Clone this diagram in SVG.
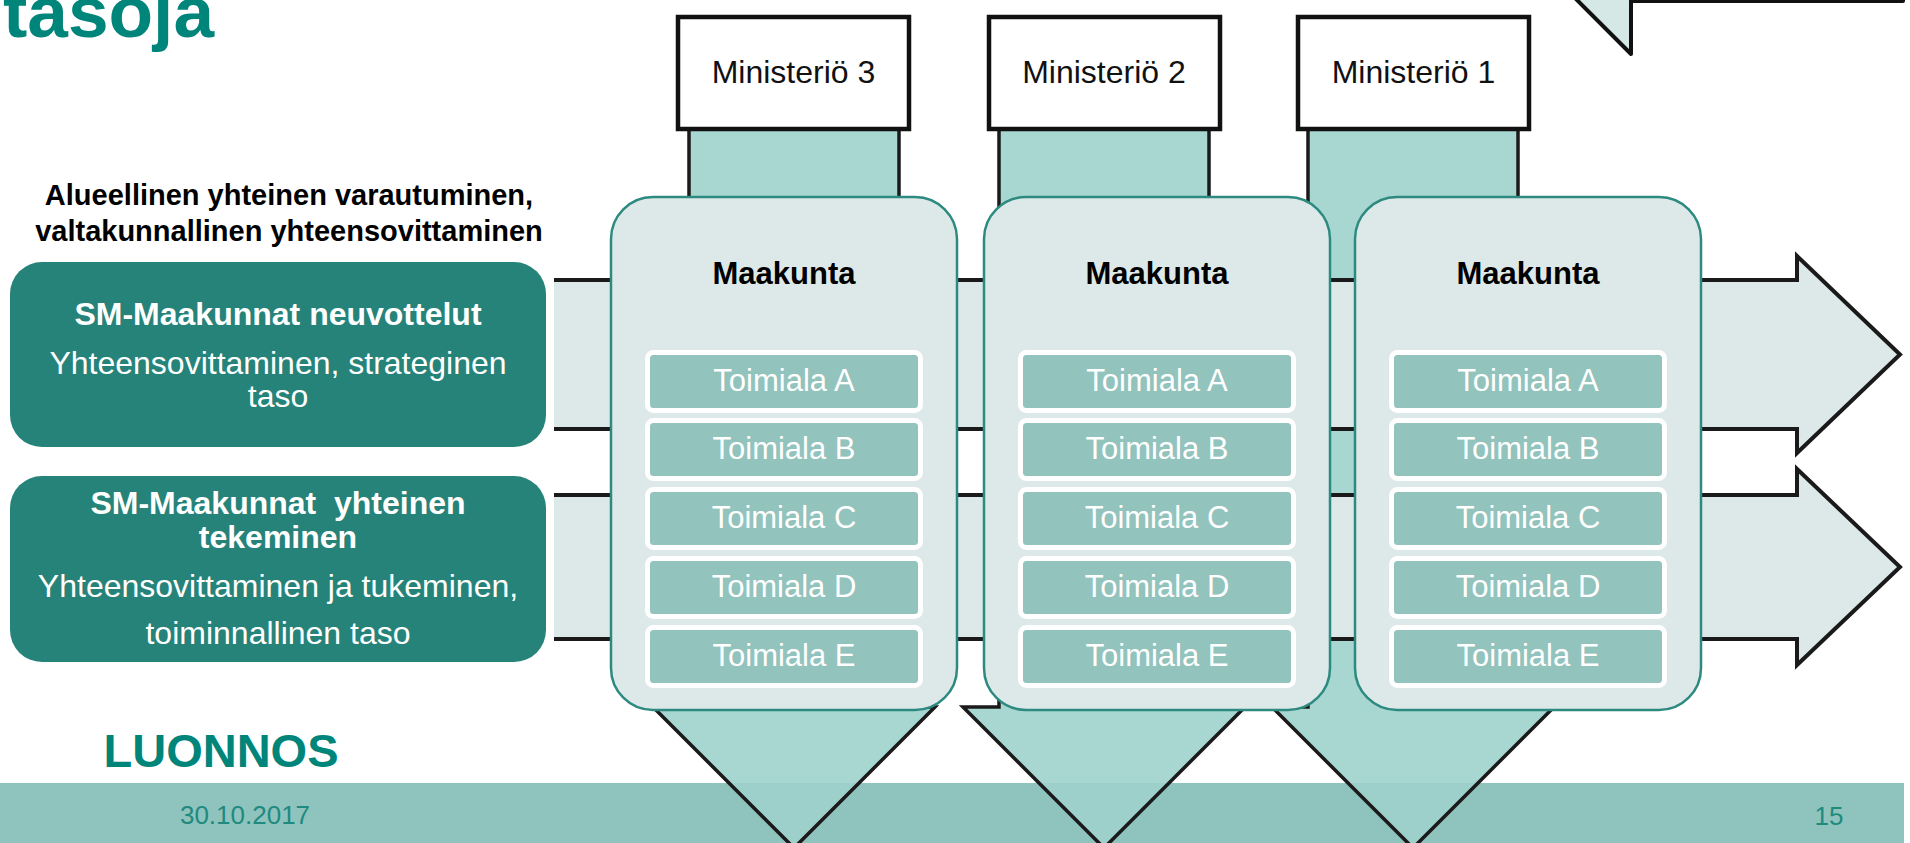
<svg xmlns="http://www.w3.org/2000/svg" width="1910" height="843" viewBox="0 0 1910 843">
<style>
text{font-family:"Liberation Sans",Arial,sans-serif}
.b{font-weight:bold}
.c{text-anchor:middle}
.wt{fill:#ffffff}
.ha{fill:#dde9e8;stroke:#1a1a1a;stroke-width:4;stroke-linejoin:miter}
.va{fill:#9fd1cc;fill-opacity:0.9;stroke:#1a1a1a;stroke-width:3.5;stroke-linejoin:miter}
.min{fill:#ffffff;stroke:#111111;stroke-width:4.5}
.gb{fill:#268379}
.card{fill:#dde9e8;stroke:#2d8a80;stroke-width:2.5}
.row{fill:#92c3bd;stroke:#ffffff;stroke-width:5}
.mt{font-size:32px;fill:#111111}
.kt{font-size:31px;fill:#000000;font-weight:bold}
.rt{font-size:31px;fill:#ffffff}
</style>
<rect x="0" y="0" width="1910" height="843" fill="#ffffff"/>
<rect id="footer-band" x="0" y="783" width="1904" height="60" fill="#8fc3bd"/>
<text x="3" y="37" class="b" style="font-size:73px;fill:#00857a">tasoja</text>
<g id="connectors">
<path class="va" d="M689,129 V707 H653 L794,848 L935,707 H899 V129"/>
<path class="va" d="M999,129 V707 H963 L1104,848 L1245,707 H1209 V129"/>
<path class="va" d="M1308,129 V707 H1272 L1413,848 L1554,707 H1518 V129"/>
<path class="ha" d="M554,280 H1797 V256 L1900,354.5 L1797,453 V429 H554"/>
<path class="ha" d="M554,495 H1797 V469 L1900,567 L1797,665 V639 H554"/>
<path d="M1903,-20 V1 H1631 V54 L1560,-17" fill="#d5e8e5" stroke="#111111" stroke-width="4" stroke-linejoin="round" stroke-linecap="round"/>
</g>
<g id="ministerio3"><rect class="min" x="678" y="17" width="231" height="112"/><text x="793.5" y="83" class="c mt">Ministeriö 3</text></g>
<g id="ministerio2"><rect class="min" x="989" y="17" width="231" height="112"/><text x="1104" y="83" class="c mt">Ministeriö 2</text></g>
<g id="ministerio1"><rect class="min" x="1298" y="17" width="231" height="112"/><text x="1413.5" y="83" class="c mt">Ministeriö 1</text></g>
<g id="header"><text x="289" y="205" class="c b" style="font-size:29px;fill:#000">Alueellinen yhteinen varautuminen,</text><text x="289" y="241" class="c b" style="font-size:29px;fill:#000">valtakunnallinen yhteensovittaminen</text></g>
<g id="neuvottelut"><rect class="gb" x="10" y="262" width="536" height="185" rx="32"/>
<text x="278" y="325" class="c b wt" style="font-size:32px">SM-Maakunnat neuvottelut</text>
<text x="278" y="374" class="c wt" style="font-size:32px">Yhteensovittaminen, strateginen</text>
<text x="278" y="407" class="c wt" style="font-size:32px">taso</text></g>
<g id="yhteinen-tekeminen"><rect class="gb" x="10" y="476" width="536" height="186" rx="32"/>
<text x="278" y="514" class="c b wt" style="font-size:32px;white-space:pre">SM-Maakunnat  yhteinen</text>
<text x="278" y="548" class="c b wt" style="font-size:32px">tekeminen</text>
<text x="278" y="597" class="c wt" style="font-size:32px">Yhteensovittaminen ja tukeminen,</text>
<text x="278" y="644" class="c wt" style="font-size:32px">toiminnallinen taso</text></g>
<g id="maakunta1"><rect class="card" x="611" y="197" width="346" height="513" rx="42"/>
<text x="784" y="284" class="c kt">Maakunta</text>
<rect class="row" x="647.5" y="352.5" width="273" height="58" rx="6"/><text x="784" y="391" class="c rt">Toimiala A</text>
<rect class="row" x="647.5" y="420.5" width="273" height="58" rx="6"/><text x="784" y="459" class="c rt">Toimiala B</text>
<rect class="row" x="647.5" y="489.5" width="273" height="58" rx="6"/><text x="784" y="528" class="c rt">Toimiala C</text>
<rect class="row" x="647.5" y="558.5" width="273" height="58" rx="6"/><text x="784" y="597" class="c rt">Toimiala D</text>
<rect class="row" x="647.5" y="627.5" width="273" height="58" rx="6"/><text x="784" y="666" class="c rt">Toimiala E</text></g>
<g id="maakunta2"><rect class="card" x="984" y="197" width="346" height="513" rx="42"/>
<text x="1157" y="284" class="c kt">Maakunta</text>
<rect class="row" x="1020.5" y="352.5" width="273" height="58" rx="6"/><text x="1157" y="391" class="c rt">Toimiala A</text>
<rect class="row" x="1020.5" y="420.5" width="273" height="58" rx="6"/><text x="1157" y="459" class="c rt">Toimiala B</text>
<rect class="row" x="1020.5" y="489.5" width="273" height="58" rx="6"/><text x="1157" y="528" class="c rt">Toimiala C</text>
<rect class="row" x="1020.5" y="558.5" width="273" height="58" rx="6"/><text x="1157" y="597" class="c rt">Toimiala D</text>
<rect class="row" x="1020.5" y="627.5" width="273" height="58" rx="6"/><text x="1157" y="666" class="c rt">Toimiala E</text></g>
<g id="maakunta3"><rect class="card" x="1355" y="197" width="346" height="513" rx="42"/>
<text x="1528" y="284" class="c kt">Maakunta</text>
<rect class="row" x="1391.5" y="352.5" width="273" height="58" rx="6"/><text x="1528" y="391" class="c rt">Toimiala A</text>
<rect class="row" x="1391.5" y="420.5" width="273" height="58" rx="6"/><text x="1528" y="459" class="c rt">Toimiala B</text>
<rect class="row" x="1391.5" y="489.5" width="273" height="58" rx="6"/><text x="1528" y="528" class="c rt">Toimiala C</text>
<rect class="row" x="1391.5" y="558.5" width="273" height="58" rx="6"/><text x="1528" y="597" class="c rt">Toimiala D</text>
<rect class="row" x="1391.5" y="627.5" width="273" height="58" rx="6"/><text x="1528" y="666" class="c rt">Toimiala E</text></g>
<text x="221" y="767" class="c b" style="font-size:47px;fill:#00857a">LUONNOS</text>
<text x="245" y="824" class="c" style="font-size:26px;fill:#1f8a7e">30.10.2017</text>
<text x="1829" y="825" class="c" style="font-size:26px;fill:#1f8a7e">15</text>
</svg>
